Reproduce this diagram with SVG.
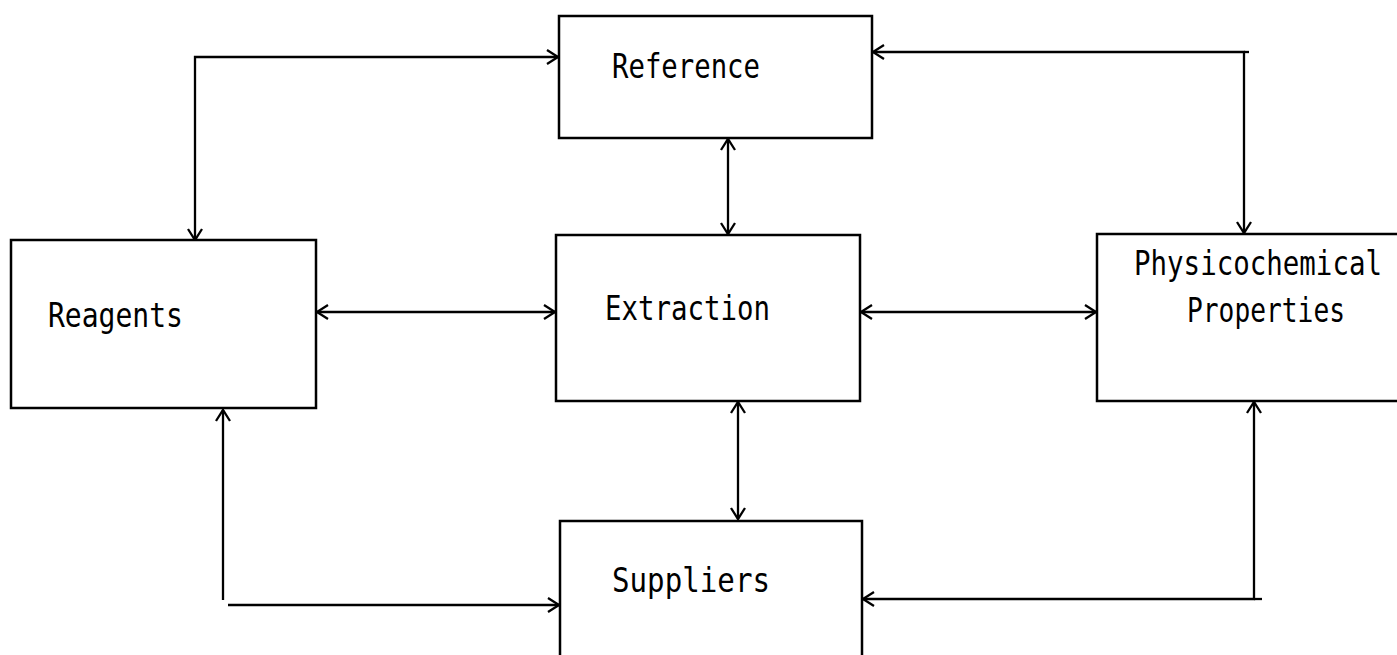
<svg xmlns="http://www.w3.org/2000/svg" width="1397" height="655" viewBox="0 0 1397 655">
<style>
.box{fill:#fff;stroke:#000;stroke-width:2.5}
.lbl{font-family:"DejaVu Sans Mono","Liberation Mono",monospace;font-size:34px;fill:#000}
.conn{fill:none;stroke:#000;stroke-width:2.3}
</style>
<defs>
<marker id="ah" markerUnits="userSpaceOnUse" markerWidth="24" markerHeight="24" viewBox="-14 -12 24 24" refX="0" refY="0" orient="auto-start-reverse">
<path d="M-11,-7 L0,0 L-11,7" fill="none" stroke="#000" stroke-width="2.3"/>
</marker>
</defs>
<rect width="1397" height="655" fill="#fff"/>
<g id="connectors">
<path class="conn" d="M195,240 V57 H558" marker-start="url(#ah)" marker-end="url(#ah)"/>
<path class="conn" d="M1244,233 V52 H873" marker-start="url(#ah)" marker-end="url(#ah)"/>
<path class="conn" d="M1244,52 H1249"/>
<path class="conn" d="M728,139 V234" marker-start="url(#ah)" marker-end="url(#ah)"/>
<path class="conn" d="M317,312 H555" marker-start="url(#ah)" marker-end="url(#ah)"/>
<path class="conn" d="M861,312 H1096" marker-start="url(#ah)" marker-end="url(#ah)"/>
<path class="conn" d="M738,402 V519" marker-start="url(#ah)" marker-end="url(#ah)"/>
<path class="conn" d="M223,410 V600" marker-start="url(#ah)"/>
<path class="conn" d="M228,605 H559" marker-end="url(#ah)"/>
<path class="conn" d="M1254,402 V599 H863" marker-start="url(#ah)" marker-end="url(#ah)"/>
<path class="conn" d="M1254,599 H1262"/>
</g>
<g id="reference">
<rect class="box" x="559" y="16" width="313" height="122"/>
<text class="lbl" x="612" y="78" textLength="148" lengthAdjust="spacingAndGlyphs">Reference</text>
</g>
<g id="reagents">
<rect class="box" x="11" y="240" width="305" height="168"/>
<text class="lbl" x="48" y="327" textLength="135" lengthAdjust="spacingAndGlyphs">Reagents</text>
</g>
<g id="extraction">
<rect class="box" x="556" y="235" width="304" height="166"/>
<text class="lbl" x="605" y="320" textLength="165" lengthAdjust="spacingAndGlyphs">Extraction</text>
</g>
<g id="physicochemical">
<rect class="box" x="1097" y="234" width="310" height="167"/>
<text class="lbl" x="1134" y="275" textLength="248" lengthAdjust="spacingAndGlyphs">Physicochemical</text>
<text class="lbl" x="1187" y="322" textLength="158" lengthAdjust="spacingAndGlyphs">Properties</text>
</g>
<g id="suppliers">
<rect class="box" x="560" y="521" width="302" height="145"/>
<text class="lbl" x="612" y="592" textLength="158" lengthAdjust="spacingAndGlyphs">Suppliers</text>
</g>
</svg>
